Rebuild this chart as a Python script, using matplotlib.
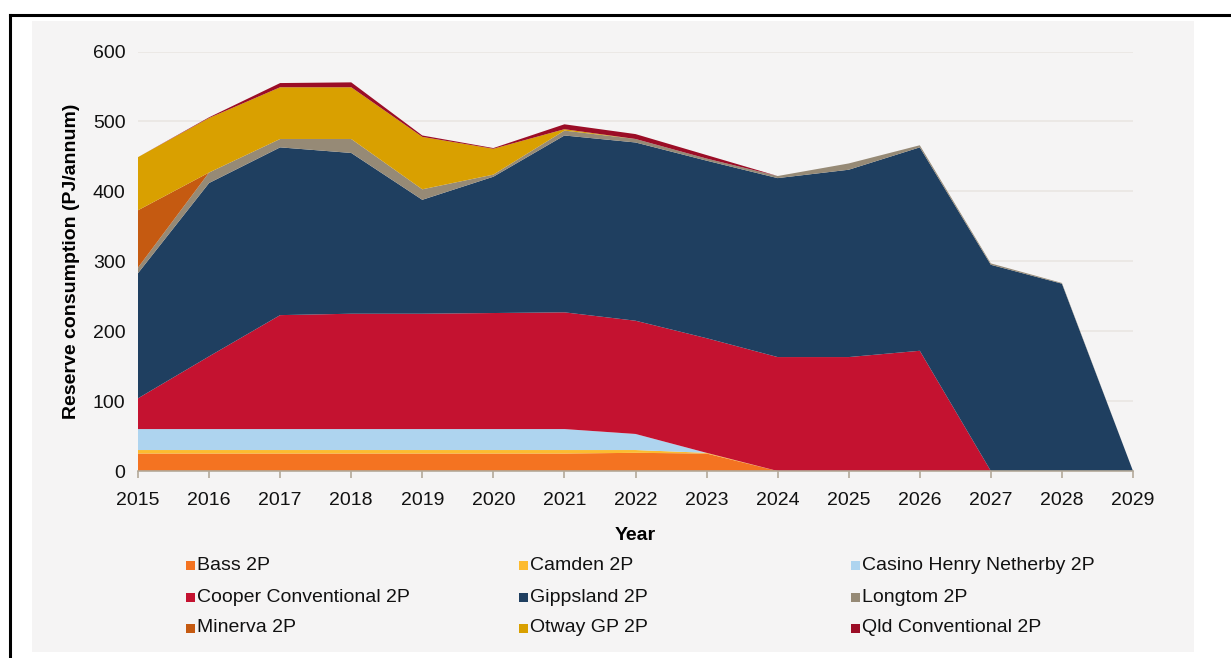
import matplotlib
matplotlib.use("Agg")
import matplotlib.pyplot as plt
from matplotlib.patches import Rectangle
from matplotlib.lines import Line2D

plt.rcParams['font.family'] = ['Liberation Sans', 'DejaVu Sans']

years = list(range(2015, 2030))
series_names = ["Bass 2P", "Camden 2P", "Casino Henry Netherby 2P",
                "Cooper Conventional 2P", "Gippsland 2P", "Longtom 2P",
                "Minerva 2P", "Otway GP 2P", "Qld Conventional 2P"]
bass      = [25, 25, 25, 25, 25, 25, 25, 26, 25, 0, 0, 0, 0, 0, 0]
camden    = [5, 5, 5, 5, 5, 5, 5, 4, 1, 0, 0, 0, 0, 0, 0]
casino    = [30, 30, 30, 30, 30, 30, 30, 23, 0, 0, 0, 0, 0, 0, 0]
cooper    = [44, 104, 163, 165, 165, 166, 167, 162, 164, 163, 163, 172, 0, 0, 0]
gippsland = [179, 248, 240, 230, 163, 195, 253, 255, 254, 256, 268, 291, 295, 268, 0]
longtom   = [8, 15, 12, 20, 15, 3, 7, 5, 3, 3, 9, 3, 2, 1, 0]
minerva   = [82, 0, 0, 0, 0, 0, 0, 0, 0, 0, 0, 0, 0, 0, 0]
otway     = [76, 78, 74, 74, 75, 37, 2, 0, 0, 0, 0, 0, 0, 0, 0]
qld       = [0, 1, 6, 7, 2, 1, 7, 7, 5, 0, 0, 0, 0, 0, 0]
y_ticks = [0, 100, 200, 300, 400, 500, 600]

colors = ["#F47321", "#FDBB2F", "#AED4EF", "#C41230", "#1F3F60",
          "#968A76", "#C55A11", "#D9A000", "#9B0D26"]

W, H = 1231, 658
fig = plt.figure(figsize=(W / 100, H / 100), dpi=100)
fig.patch.set_facecolor("white")

bg = "#F5F4F4"
# gray panel
fig.patches.append(Rectangle((32 / W, 1 - 652 / H), (1194 - 32) / W, (652 - 21) / H,
                             transform=fig.transFigure, facecolor=bg, edgecolor="none", zorder=-5))
# black frame lines
fig.lines.append(Line2D([10 / W, 1.0], [1 - 15 / H, 1 - 15 / H], transform=fig.transFigure,
                        color="black", linewidth=2.2, zorder=-4))
fig.lines.append(Line2D([10 / W, 10 / W], [1 - 15 / H, 0], transform=fig.transFigure,
                        color="black", linewidth=2.2, zorder=-4))

x0, x1 = 138, 1133
y_bot, y_top = 471, 51.6
ax = fig.add_axes([x0 / W, 1 - y_bot / H, (x1 - x0) / W, (y_bot - y_top) / H])
ax.set_zorder(2)
ax.set_facecolor("none")

data = [bass, camden, casino, cooper, gippsland, longtom, minerva, otway, qld]
ax.stackplot(years, *data, colors=colors, labels=series_names, linewidth=0, zorder=3)

ax.set_xlim(2015, 2029)
ax.set_ylim(0, 600)
ax.set_xticks(years)
ax.set_yticks(y_ticks)
ax.set_xticklabels([str(y) for y in years], fontsize=14)
ax.set_yticklabels([str(v) for v in y_ticks], fontsize=14)
ax.grid(axis="y", color="#E9E6E3", linewidth=1.2, zorder=0)
ax.set_axisbelow(True)
for s in ["top", "right", "left"]:
    ax.spines[s].set_visible(False)
ax.spines["bottom"].set_color("#B3A999")
ax.spines["bottom"].set_linewidth(1.2)
ax.spines["bottom"].set_zorder(4)
ax.tick_params(axis="x", length=5, color="#B3A999", width=1.2, pad=10, labelcolor="#111111")
ax.tick_params(axis="y", length=0, pad=9, labelcolor="#111111")

ax.set_xlabel("Year", fontsize=14, fontweight="bold", labelpad=13)
ax.set_ylabel("Reserve consumption (PJ/annum)", fontsize=14, fontweight="bold", labelpad=9)

# legend, drawn manually in 3 columns
col_x = [190, 523, 855]
row_y = [565, 597, 628]
sq = 9
for i, (name, c) in enumerate(zip(series_names, colors)):
    r, cc = divmod(i, 3)
    xs, yc = col_x[cc], row_y[r]
    fig.patches.append(Rectangle(((xs - sq / 2) / W, 1 - (yc + sq / 2) / H), sq / W, sq / H,
                                 transform=fig.transFigure, facecolor=c, edgecolor="none"))
    fig.text((xs + 7) / W, 1 - yc / H, name, fontsize=14, va="center", ha="left", color="#111111")

fig.savefig("out.png", dpi=100)
